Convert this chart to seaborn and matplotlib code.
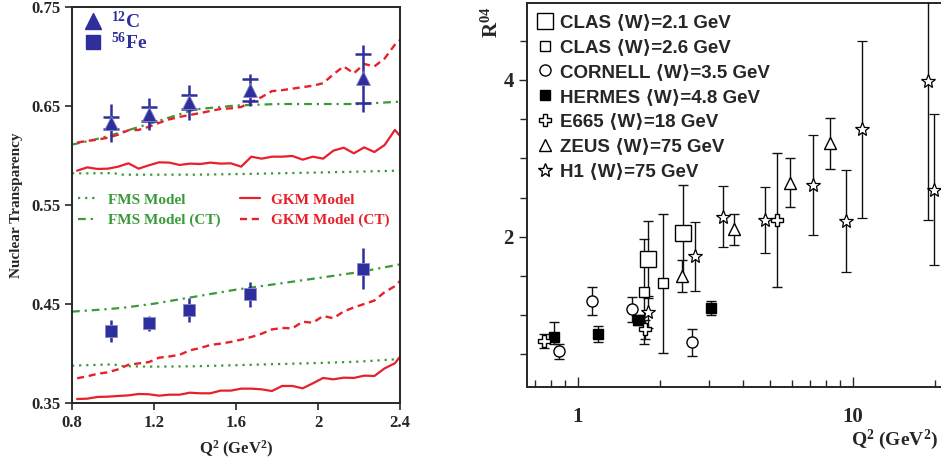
import matplotlib.pyplot as plt
import seaborn as sns
from matplotlib import ticker
from matplotlib.lines import Line2D

# ---- left panel: nuclear transparency ----
q_pts = [0.99, 1.175, 1.37, 1.67, 2.22]
t_carbon = [0.633, 0.642, 0.654, 0.666, 0.678]
t_carbon_stat = [0.006, 0.007, 0.0073, 0.011, 0.0245]
t_carbon_tot = [0.0195, 0.016, 0.0177, 0.0165, 0.034]
t_iron = [0.423, 0.4305, 0.444, 0.4597, 0.4855]
t_iron_err = [0.0113, 0.0074, 0.0121, 0.013, 0.0208]

q_gkm = [0.825, 0.875, 0.925, 0.975, 1.025, 1.075, 1.125, 1.175, 1.225, 1.275,
         1.325, 1.375, 1.425, 1.475, 1.525, 1.575, 1.625, 1.675, 1.725, 1.775,
         1.825, 1.875, 1.925, 1.975, 2.025, 2.075, 2.125, 2.175, 2.225, 2.275,
         2.325, 2.375, 2.4]
gkm_c = [0.5847, 0.5880, 0.5864, 0.5867, 0.5887, 0.5921, 0.5867, 0.5901, 0.5931,
         0.5928, 0.5904, 0.5918, 0.5914, 0.5928, 0.5918, 0.5921, 0.5887, 0.5988,
         0.5968, 0.5988, 0.5988, 0.5995, 0.5958, 0.5988, 0.5968, 0.6049, 0.6079,
         0.6022, 0.6082, 0.6035, 0.6106, 0.6258, 0.6197]
gkm_ct_c = [0.613, 0.6148, 0.616, 0.618, 0.621, 0.6255, 0.6258, 0.629, 0.633,
            0.6365, 0.639, 0.641, 0.6428, 0.645, 0.647, 0.6476, 0.649, 0.654,
            0.659, 0.665, 0.666, 0.6675, 0.669, 0.6705, 0.673, 0.682, 0.690,
            0.683, 0.6925, 0.690, 0.698, 0.712, 0.7167]
gkm_fe = [0.3540, 0.3544, 0.3561, 0.3564, 0.3571, 0.3577, 0.3591, 0.3588, 0.3574,
          0.3584, 0.3584, 0.3604, 0.3598, 0.3598, 0.3625, 0.3625, 0.3645, 0.3645,
          0.3638, 0.3621, 0.3672, 0.3672, 0.3648, 0.3699, 0.3753, 0.3739, 0.3756,
          0.3753, 0.3776, 0.3773, 0.3850, 0.3901, 0.3968]
gkm_ct_fe = [0.375, 0.377, 0.3795, 0.381, 0.384, 0.3886, 0.390, 0.3913, 0.3958,
             0.397, 0.3987, 0.4032, 0.4055, 0.4086, 0.410, 0.4117, 0.414, 0.4167,
             0.420, 0.4243, 0.4258, 0.4254, 0.4321, 0.4311, 0.4379, 0.4356, 0.4425,
             0.4465, 0.450, 0.4535, 0.462, 0.468, 0.4732]

q_fms = [0.8, 0.9, 1.0, 1.05, 1.2, 1.4, 1.6, 1.8, 2.0, 2.2, 2.4]
fms_c = [0.582, 0.582, 0.5822, 0.5806, 0.5806, 0.5806, 0.5812, 0.582, 0.5828, 0.5837, 0.5847]
fms_ct_c = [0.611, 0.6155, 0.621, 0.624, 0.6335, 0.6466, 0.6505, 0.652, 0.652, 0.652, 0.6544]
fms_fe = [0.3877, 0.3884, 0.389, 0.3872, 0.3867, 0.3871, 0.3882, 0.3893, 0.3904, 0.3918, 0.3944]
fms_ct_fe = [0.4423, 0.4437, 0.4453, 0.4462, 0.4503, 0.4574, 0.4645, 0.4703, 0.4762, 0.4822, 0.490]

# ---- right panel: R04 vs Q2 ----
clas21_q = [1.80, 2.41]
clas21_r = [1.715, 2.05]
clas21_e = [0.49, 0.61]
clas26_q = [1.75, 2.05]
clas26_r = [1.30, 1.405]
clas26_e = [0.67, 0.89]
cornell_q = [0.857, 1.126, 1.58, 2.60]
cornell_r = [0.542, 1.184, 1.074, 0.653]
cornell_e = [0.095, 0.18, 0.16, 0.175]
hermes_q = [0.821, 1.191, 1.662, 3.06]
hermes_r = [0.717, 0.759, 0.937, 1.087]
hermes_elo = [0.08, 0.107, 0.06, 0.09]
hermes_ehi = [0.2, 0.102, 0.06, 0.09]
e665_q = [0.758, 1.759, 5.32]
e665_r = [0.672, 0.82, 2.213]
e665_e = [0.085, 0.12, 0.86]
zeus_q = [2.39, 3.70, 5.90, 8.29]
zeus_r = [1.50, 2.094, 2.69, 3.19]
zeus_e = [0.2, 0.2, 0.31, 0.33]
h1_q = [1.80, 2.67, 3.38, 4.79, 7.18, 9.47, 10.8, 18.8, 19.7]
h1_r = [1.04, 1.754, 2.255, 2.213, 2.66, 2.20, 3.37, 3.99, 2.60]
h1_e = [0.2, 0.44, 0.39, 0.42, 0.64, 0.65, 1.13, 1.78, 0.96]

blue = "#2e2e9c"
green = "#3a9a3a"
red = "#e8202a"

sns.set_style("ticks")
plt.rc("font", family="Liberation Serif", weight="bold")
plt.rc("axes", linewidth=1.4, labelweight="bold")
plt.rc("mathtext", fontset="custom", rm="Liberation Serif:bold",
       bf="Liberation Serif:bold", it="Liberation Serif:bold")

fig = plt.figure(figsize=(9.41, 4.63), dpi=100)
ax1 = fig.add_axes([0.0765, 0.1296, 0.3486, 0.8553])
ax2 = fig.add_axes([0.560, 0.164, 0.445, 0.8295])

# model curves
dot = (0, (1, 2.2))
dashdot = (0, (3.5, 2.2, 1, 2.2))
dash = (0, (3, 2))
for fms, fms_ct, gkm, gkm_ct, lab in [(fms_c, fms_ct_c, gkm_c, gkm_ct_c, True),
                                       (fms_fe, fms_ct_fe, gkm_fe, gkm_ct_fe, False)]:
    sns.lineplot(x=q_fms, y=fms, ax=ax1, color=green, linestyle=dot, lw=1.6,
                 label="FMS Model" if lab else None, legend=False)
    sns.lineplot(x=q_fms, y=fms_ct, ax=ax1, color=green, linestyle=dashdot, lw=1.6,
                 label="FMS Model (CT)" if lab else None, legend=False)
    sns.lineplot(x=q_gkm, y=gkm, ax=ax1, color=red, linestyle="-", lw=1.6,
                 label="GKM Model" if lab else None, legend=False)
    sns.lineplot(x=q_gkm, y=gkm_ct, ax=ax1, color=red, linestyle=dash, lw=1.7,
                 label="GKM Model (CT)" if lab else None, legend=False)
model_lines = ax1.get_lines()[:4]

# data points
ax1.errorbar(q_pts, t_carbon, yerr=t_carbon_tot, fmt="none", ecolor=blue,
             elinewidth=1.8, zorder=4)
ax1.errorbar(q_pts, t_carbon, yerr=t_carbon_stat, fmt="none", ecolor=blue,
             elinewidth=0, capsize=6, capthick=1.8, zorder=4)
ax1.plot(q_pts, t_carbon, "^", color=blue, ms=10, mec="#8888cc", mew=0.6, zorder=5)
ax1.errorbar(q_pts, t_iron, yerr=t_iron_err, fmt="s", color=blue, ms=9,
             mec="#8888cc", mew=0.6, ecolor=blue, elinewidth=1.8, zorder=5)

ax1.set_xlim(0.8, 2.4)
ax1.set_ylim(0.35, 0.75)
ax1.set_xticks([0.8, 1.2, 1.6, 2.0, 2.4])
ax1.set_xticklabels(["0.8", "1.2", "1.6", "2", "2.4"])
ax1.set_yticks([0.35, 0.45, 0.55, 0.65, 0.75])
ax1.set_yticklabels(["0.35", "0.45", "0.55", "0.65", "0.75"])
ax1.tick_params(direction="out", length=5, width=1.2, labelsize=12)
for s in ax1.spines.values():
    s.set_visible(True)
ax1.set_xlabel("Q$^{2}$ (GeV$^{2}$)", fontsize=12, labelpad=6)
ax1.set_ylabel("Nuclear Transparency", fontsize=11, labelpad=6)

key = [Line2D([], [], ls="none", marker="^", color=blue, ms=11),
       Line2D([], [], ls="none", marker="s", color=blue, ms=10)]
leg1 = ax1.legend(key, ["$^{12}$C", "$^{56}$Fe"], loc="upper left",
                  bbox_to_anchor=(-0.019, 1.035), frameon=False, fontsize=14,
                  labelcolor=blue, handlelength=1.0, handletextpad=0.45,
                  labelspacing=0.0)
ax1.add_artist(leg1)
ax1.legend(model_lines, [l.get_label() for l in model_lines], ncol=2,
           loc="upper left", bbox_to_anchor=(-0.025, 0.565), frameon=False,
           fontsize=11, labelcolor="linecolor", handlelength=1.3,
           handletextpad=0.7, columnspacing=1.3, labelspacing=0.45)

# right panel
ek = dict(ecolor="#111111", elinewidth=1.0, capsize=3.6, capthick=1.0, ls="none")
ax2.errorbar(clas21_q, clas21_r, yerr=clas21_e, marker="s", ms=11, mfc="white",
             mec="black", mew=1.0, zorder=4, **ek)
ax2.errorbar(clas26_q, clas26_r, yerr=clas26_e, marker="s", ms=7.5, mfc="white",
             mec="black", mew=1.0, zorder=4, **ek)
ax2.errorbar(cornell_q, cornell_r, yerr=cornell_e, marker="o", ms=8, mfc="white",
             mec="black", mew=1.0, zorder=4, **ek)
ax2.errorbar(hermes_q, hermes_r, yerr=[hermes_elo, hermes_ehi], marker="s", ms=7.5,
             mfc="black", mec="black", zorder=4, **ek)
ax2.errorbar(e665_q, e665_r, yerr=e665_e, marker="P", ms=9, mfc="white",
             mec="black", mew=1.0, zorder=4, **ek)
ax2.errorbar(zeus_q, zeus_r, yerr=zeus_e, marker="^", ms=9, mfc="white",
             mec="black", mew=1.0, zorder=4, **ek)
ax2.errorbar(h1_q, h1_r, yerr=h1_e, marker="*", ms=10, mfc="white",
             mec="black", mew=0.9, zorder=4, **ek)

ax2.set_xscale("log")
ax2.set_xlim(0.655, 21.8)
ax2.set_ylim(0.083, 4.98)
ax2.xaxis.set_major_locator(ticker.FixedLocator([1, 10]))
ax2.xaxis.set_major_formatter(ticker.FixedFormatter(["1", "10"]))
ax2.xaxis.set_minor_locator(ticker.LogLocator(subs=range(2, 10)))
ax2.xaxis.set_minor_formatter(ticker.NullFormatter())
ax2.yaxis.set_major_locator(ticker.FixedLocator([2, 4]))
ax2.yaxis.set_minor_locator(ticker.MultipleLocator(0.5))
ax2.yaxis.set_major_formatter(ticker.FixedFormatter(["2", "4"]))
ax2.tick_params(axis="x", which="both", direction="in", labelsize=15, pad=14)
ax2.tick_params(axis="x", which="major", length=7, width=1.0)
ax2.tick_params(axis="x", which="minor", length=5, width=1.0)
ax2.tick_params(axis="y", which="both", direction="out", labelsize=15, width=1.0)
ax2.tick_params(axis="y", which="major", length=6)
ax2.tick_params(axis="y", which="minor", length=5)
ax2.spines["right"].set_visible(False)
ax2.set_xlabel("Q$^{2}$ (GeV$^{2}$)", fontsize=14, ha="right", va="center")
ax2.xaxis.set_label_coords(0.982, -0.138)
ax2.set_ylabel("R$^{04}$", fontsize=15, ha="center", va="center")
ax2.yaxis.set_label_coords(-0.084, 0.95)

h = [Line2D([], [], ls="none", marker="s", ms=11, mfc="white", mec="black"),
     Line2D([], [], ls="none", marker="s", ms=7.5, mfc="white", mec="black"),
     Line2D([], [], ls="none", marker="o", ms=8, mfc="white", mec="black"),
     Line2D([], [], ls="none", marker="s", ms=7.5, mfc="black", mec="black"),
     Line2D([], [], ls="none", marker="P", ms=9, mfc="white", mec="black"),
     Line2D([], [], ls="none", marker="^", ms=9, mfc="white", mec="black"),
     Line2D([], [], ls="none", marker="*", ms=10, mfc="white", mec="black")]
labels = ["CLAS \u27e8W\u27e9=2.1 GeV", "CLAS \u27e8W\u27e9=2.6 GeV",
          "CORNELL \u27e8W\u27e9=3.5 GeV", "HERMES \u27e8W\u27e9=4.8 GeV",
          "E665 \u27e8W\u27e9=18 GeV", "ZEUS \u27e8W\u27e9=75 GeV",
          "H1 \u27e8W\u27e9=75 GeV"]
ax2.legend(h, labels, loc="upper left", bbox_to_anchor=(-0.014, 1.01), frameon=False,
           prop={"family": ["Liberation Sans", "DejaVu Sans"], "weight": "bold",
                 "size": 13.5},
           handlelength=1.0, handletextpad=0.25, labelspacing=0.41, borderpad=0.3)

fig.savefig("out.png", dpi=100)
